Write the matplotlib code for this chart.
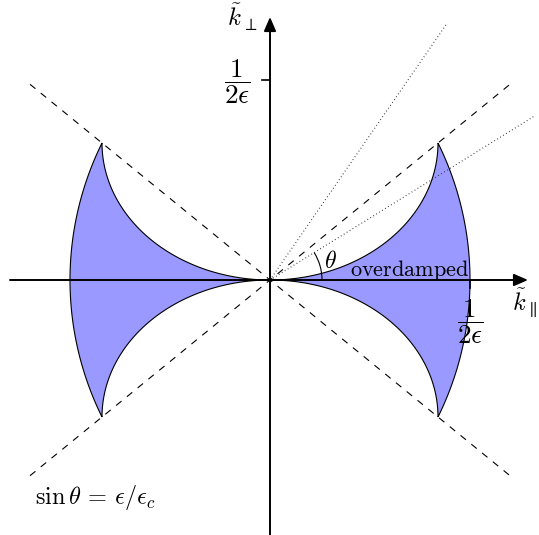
import numpy as np
import matplotlib
matplotlib.use("Agg")
import matplotlib.pyplot as plt
from matplotlib.patches import Polygon, Arc, FancyArrowPatch

plt.rcParams['mathtext.fontset'] = 'cm'
plt.rcParams['font.family'] = ['DejaVu Serif']
plt.rcParams['lines.scale_dashes'] = False

# ---- data (units: 1/(2 eps) = 1) ----
half_eps_inv = 1.0            # outer boundary crossing on k_parallel axis
tip = [0.84, 0.685]           # cusp point of the overdamped lobe
dotted_angles_deg = [55.4, 31.8]
dotted_length = 1.55
dashed_extent = 1.2
theta_arc_radius = 0.26
fill_color = '#9999ff'

fig = plt.figure(figsize=(5.39, 5.35), dpi=100)
ax = fig.add_axes([0, 0, 1, 1])
ax.set_xlim(-1.35, 1.345)
ax.set_ylim(-1.275, 1.40)
ax.set_aspect('equal')
ax.axis('off')

tx, ty = tip
# outer circular arc: centre on negative axis, through (half_eps_inv,0) and tip
c = (tx**2 + ty**2 - half_eps_inv**2) / (2 * (half_eps_inv - tx))
R = half_eps_inv + c
phi_tip = np.arctan2(ty, tx + c)

t = np.linspace(0, np.pi / 2, 200)
inner_x = tx * np.sin(t)
inner_y = ty * (1 - np.cos(t))
phi = np.linspace(phi_tip, -phi_tip, 200)
outer_x = R * np.cos(phi) - c
outer_y = R * np.sin(phi)

lobe_x = np.concatenate([inner_x, outer_x, inner_x[::-1]])
lobe_y = np.concatenate([inner_y, outer_y, -inner_y[::-1]])

for s in [1, -1]:
    ax.add_patch(Polygon(np.column_stack([s * lobe_x, lobe_y]), closed=True,
                         facecolor=fill_color, edgecolor='black', lw=0.8, zorder=2))

# dashed lines through cusps
slope = ty / tx
for s in [1, -1]:
    ax.plot([-dashed_extent, dashed_extent],
            [-s * slope * dashed_extent, s * slope * dashed_extent],
            color='black', lw=0.8, dashes=(5, 5), zorder=3)

# dotted lines
for a in dotted_angles_deg:
    r = np.deg2rad(a)
    ax.plot([0, dotted_length * np.cos(r)], [0, dotted_length * np.sin(r)],
            color='#222222', lw=0.8, dashes=(0.6, 1.9), zorder=3)

# theta arc
ax.add_patch(Arc((0, 0), 2 * theta_arc_radius, 2 * theta_arc_radius,
                 theta1=0, theta2=min(dotted_angles_deg), color='black', lw=0.8, zorder=4))

# axes with arrows
ax.add_patch(FancyArrowPatch((-1.30, 0), (1.29, 0), arrowstyle='-|>,head_length=6,head_width=2.6',
                             mutation_scale=1.4, lw=1.4, color='black', zorder=5,
                             shrinkA=0, shrinkB=0))
ax.add_patch(FancyArrowPatch((0, -1.3), (0, 1.315), arrowstyle='-|>,head_length=6,head_width=2.6',
                             mutation_scale=1.4, lw=1.4, color='black', zorder=5,
                             shrinkA=0, shrinkB=0))

# ticks
ax.plot([-0.04, 0], [half_eps_inv, half_eps_inv], color='black', lw=1.2, zorder=5)
ax.plot([half_eps_inv, half_eps_inv], [0, -0.04], color='black', lw=1.2, zorder=5)

ax.text(-0.14, 1.315, r'$\tilde{k}_\perp$', fontsize=18, ha='center', va='center')
ax.text(-0.165, 0.99, r'$\dfrac{1}{2\epsilon}$', fontsize=19.5, ha='center', va='center')
ax.text(1.0, -0.21, r'$\dfrac{1}{2\epsilon}$', fontsize=19.5, ha='center', va='center')
ax.text(1.335, -0.115, r'$\tilde{k}_\parallel$', fontsize=17.5, ha='right', va='center')
ax.text(0.70, 0.048, r'$\mathrm{overdamped}$', fontsize=16, ha='center', va='center', zorder=6)
ax.text(0.30, 0.09, r'$\theta$', fontsize=17, ha='center', va='center', zorder=6)
ax.text(-0.875, -1.085, r'$\sin\theta \/=\/ \epsilon/\epsilon_c$', fontsize=17.5,
        ha='center', va='center')

fig.savefig('out.png', dpi=100)
